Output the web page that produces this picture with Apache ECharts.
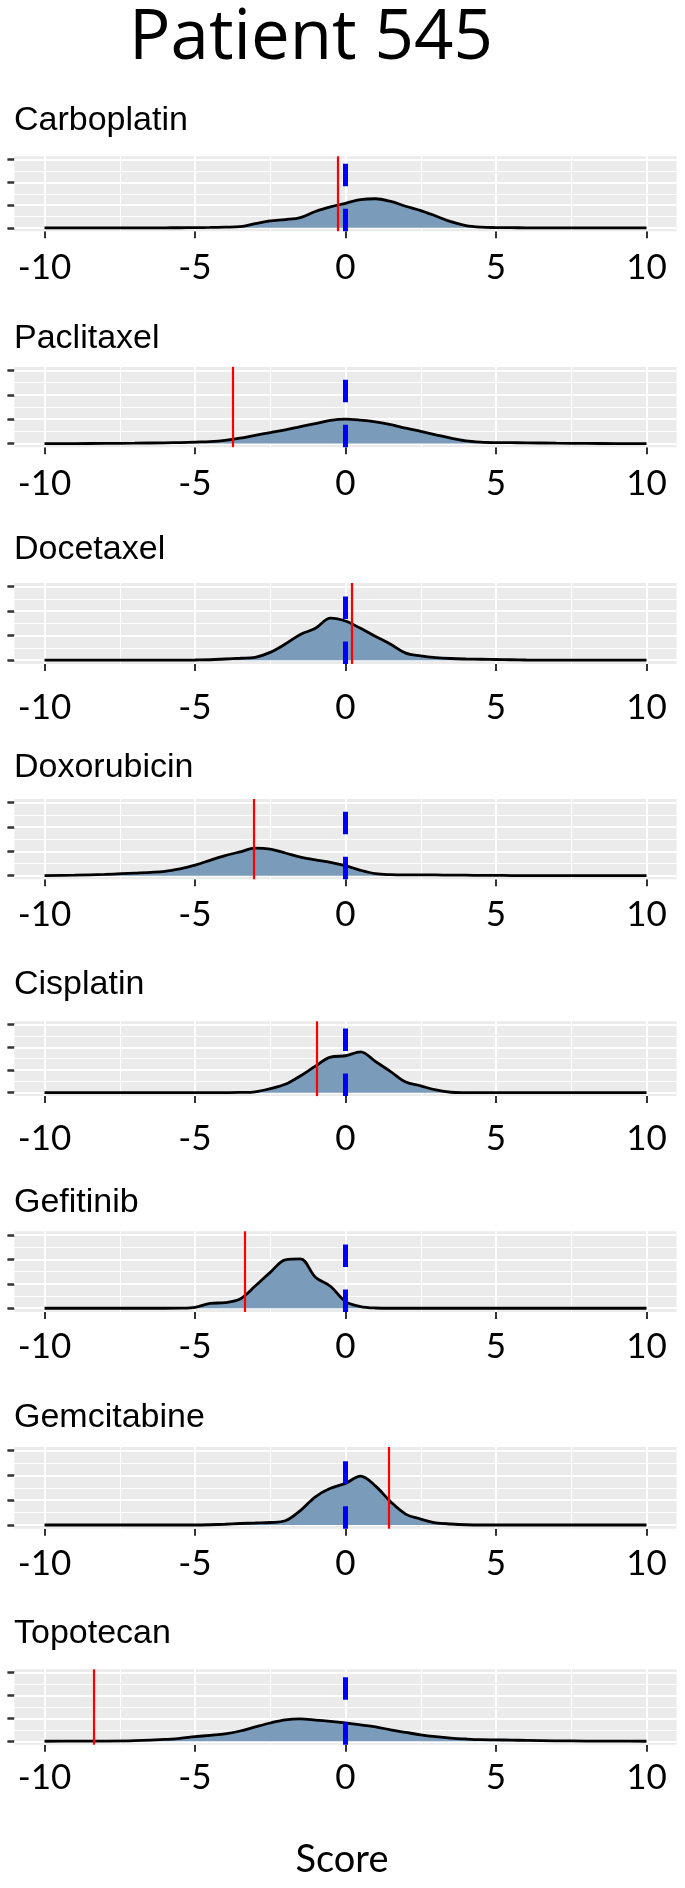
<!DOCTYPE html>
<html><head><meta charset="utf-8">
<script src="https://cdn.jsdelivr.net/npm/echarts/dist/echarts.min.js"></script>
<style>html,body{margin:0;padding:0;background:#fff}#c{width:685px;height:1888px}</style>
</head><body><div id="c"></div>
<script>
// ---------- data ----------
const drugs = ['Carboplatin','Paclitaxel','Docetaxel','Doxorubicin','Cisplatin','Gefitinib','Gemcitabine','Topotecan'];
const scoreX = [-10,-9,-8,-7,-6,-5.5,-5,-4.5,-4,-3.5,-3,-2.5,-2,-1.5,-1,-0.5,0,0.5,1,1.5,2,2.5,3,3.5,4,4.5,5,5.5,6,7,8,9,10];
const carboplatin = [0,0,0,0,0,0.003,0.005,0.015,0.03,0.05,0.18,0.3,0.36,0.45,0.72,0.92,1.08,1.24,1.28,1.16,0.95,0.76,0.52,0.27,0.1,0.03,0.01,0.005,0,0,0,0,0];
const paclitaxel = [0,0,0.005,0.015,0.03,0.04,0.06,0.08,0.13,0.22,0.34,0.45,0.56,0.7,0.82,0.95,1.0,0.96,0.89,0.78,0.63,0.5,0.36,0.22,0.11,0.06,0.04,0.035,0.03,0.015,0.005,0,0];
const docetaxel = [0,0,0,0,0,0.005,0.01,0.02,0.05,0.08,0.12,0.32,0.66,1.05,1.3,1.72,1.6,1.3,0.97,0.65,0.29,0.18,0.11,0.07,0.05,0.04,0.03,0.02,0.01,0,0,0,0];
const doxorubicin = [0,0.02,0.05,0.1,0.18,0.28,0.43,0.63,0.82,0.98,1.13,1.09,0.93,0.76,0.65,0.55,0.41,0.22,0.08,0.04,0.03,0.03,0.03,0.02,0.02,0.01,0.01,0.005,0,0,0,0,0];
const cisplatin = [0,0,0,0,0,0,0,0,0.003,0.01,0.04,0.18,0.37,0.74,1.17,1.57,1.63,1.8,1.37,0.93,0.47,0.3,0.12,0.02,0.005,0,0,0,0,0,0,0,0];
const gefitinib = [0,0,0,0,0,0.005,0.04,0.2,0.23,0.38,0.91,1.47,1.98,2.02,1.27,0.9,0.27,0.07,0.01,0,0,0,0,0,0,0,0,0,0,0,0,0,0];
const gemcitabine = [0,0,0,0,0,0,0,0.01,0.03,0.06,0.08,0.1,0.17,0.58,1.14,1.48,1.68,1.97,1.57,0.94,0.44,0.24,0.09,0.04,0.01,0,0,0,0,0,0,0,0];
const topotecan = [0,0.005,0.01,0.03,0.08,0.13,0.2,0.26,0.32,0.45,0.63,0.8,0.94,0.98,0.93,0.87,0.8,0.72,0.63,0.5,0.39,0.28,0.2,0.14,0.1,0.07,0.06,0.05,0.04,0.02,0.01,0.005,0];
const densities = [carboplatin,paclitaxel,docetaxel,doxorubicin,cisplatin,gefitinib,gemcitabine,topotecan];
const patientScore = [-0.25,-3.75,0.22,-3.05,-0.95,-3.35,1.45,-8.35];
const referenceScore = [0,0,0,0,0,0,0,0];
const xTicks = [-10,-5,0,5,10];
const xMinor = [-7.5,-2.5,2.5,7.5];
const yTicks = [0,1,2,3];
const yMinor = [0.5,1.5,2.5];

// ---------- layout (pixels) ----------
const panels = [
  {top:156.3, height:74.9, margin:19,   titleTop:103.5},
  {top:366.9, height:80.3, margin:19.3, titleTop:322},
  {top:583.0, height:80.9, margin:26.6, titleTop:533},
  {top:799.0, height:80.3, margin:18.2, titleTop:751},
  {top:1021.3,height:74.8, margin:25.4, titleTop:968},
  {top:1231.3,height:80.6, margin:17.6, titleTop:1186},
  {top:1447.0,height:81.7, margin:17.8, titleTop:1401},
  {top:1669.3,height:75.4, margin:15.8, titleTop:1617}
];

const chart = echarts.init(document.getElementById('c'), null, {renderer:'canvas'});
const grids=[], xAxes=[], yAxes=[], series=[], graphics=[];
panels.forEach((p,i)=>{
  grids.push({left:14.4, width:662.2, top:p.top, height:p.height, show:true, backgroundColor:'#EBEBEB', borderWidth:0, containLabel:false, outerBoundsMode:'none'});
  xAxes.push({gridIndex:i, type:'value', min:-11, max:11,
    axisLine:{show:false,onZero:false}, splitLine:{show:false},
    axisTick:{show:true, customValues:xTicks, length:7, lineStyle:{color:'#333333', width:2}},
    axisLabel:{show:true, customValues:xTicks, margin:p.margin, fontFamily:'Lato', fontSize:35, color:'#000'}});
  yAxes.push({gridIndex:i, type:'value', min:-0.15, max:3.15,
    axisLine:{show:false,onZero:false}, splitLine:{show:false}, axisLabel:{show:false},
    axisTick:{show:true, customValues:yTicks, length:7, lineStyle:{color:'#333333', width:2.5}}});
  const gl = [];
  xTicks.forEach(v=>gl.push({xAxis:v, lineStyle:{color:'#FFFFFF', width:2, type:'solid'}}));
  xMinor.forEach(v=>gl.push({xAxis:v, lineStyle:{color:'#FFFFFF', width:1, type:'solid'}}));
  yTicks.forEach(v=>gl.push({yAxis:v, lineStyle:{color:'#FFFFFF', width:2, type:'solid'}}));
  yMinor.forEach(v=>gl.push({yAxis:v, lineStyle:{color:'#FFFFFF', width:1, type:'solid'}}));
  series.push({type:'line', xAxisIndex:i, yAxisIndex:i, data:[], silent:true, z:1,
    markLine:{z:1, silent:true, symbol:['none','none'], label:{show:false}, animation:false, data:gl}});
  series.push({type:'line', name:drugs[i], xAxisIndex:i, yAxisIndex:i, z:2, silent:true,
    data: scoreX.map((x,j)=>[x, densities[i][j]]), smooth:0.35, showSymbol:false,
    lineStyle:{color:'#000000', width:2.8}, areaStyle:{color:'#7A9CBA', opacity:1}});
  series.push({type:'line', xAxisIndex:i, yAxisIndex:i, data:[], silent:true, z:6,
    markLine:{z:6, silent:true, symbol:['none','none'], label:{show:false}, animation:false,
      data:[
        {xAxis:patientScore[i], lineStyle:{color:'#FF0000', width:2.2, type:'solid'}},
        {xAxis:referenceScore[i], lineStyle:{color:'#0000FF', width:5, type:[22.5,22.5]}}
      ]}});
  graphics.push({type:'text', x:14, y:p.titleTop, z:10,
    style:{text:drugs[i], font:'34px "Liberation Sans"', fill:'#000', textAlign:'left', textVerticalAlign:'top'}});
});
graphics.push({type:'text', x:311, y:5, z:10,
  style:{text:'Patient 545', font:'69px "Open Sans"', fill:'#000', textAlign:'center', textVerticalAlign:'top'}});
graphics.push({type:'text', x:342, y:1841, z:10,
  style:{text:'Score', font:'38px Lato', fill:'#000', textAlign:'center', textVerticalAlign:'top'}});

chart.setOption({animation:false, backgroundColor:'#FFFFFF', grid:grids, xAxis:xAxes, yAxis:yAxes, series:series, graphic:graphics});
</script></body></html>
